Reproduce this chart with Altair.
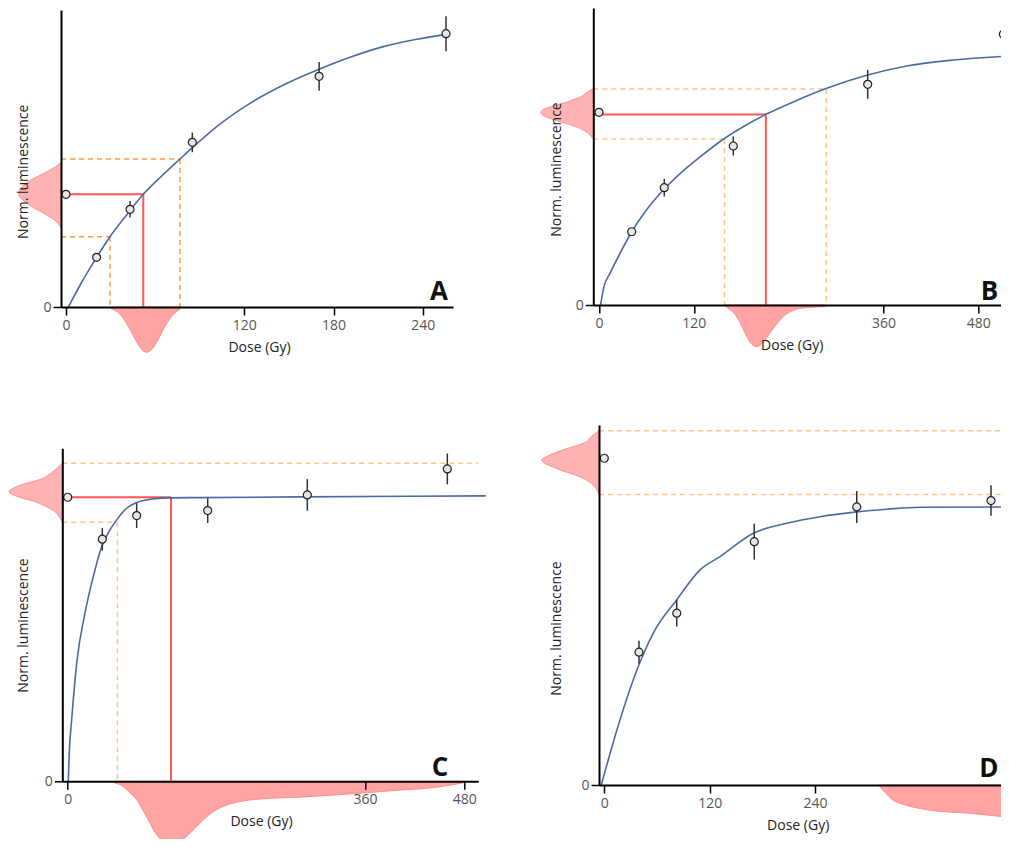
import altair as alt
import pandas as pd

FONT = "Open Sans"
BLUE = "#4a6ba3"
RED = "#ff5555"
ORANGE_A = "#ff9a3c"
ORANGE = "#ffc48c"
YFILL = "#ffb3b3"
XFILL = "#ffa3a3"
DSTROKE = "#ff8f8f"

# ---------------- Panel A ----------------
A_dose = [0, 20.6, 43.1, 85.0, 170.3, 255.7]
A_lum = [1.138, 0.502, 0.987, 1.663, 2.330, 2.761]
A_err = [0.0, 0.03, 0.084, 0.099, 0.146, 0.177]
A_curve_dose = [1.6, 10, 20.6, 29.6, 40, 52.0, 64, 76.7, 85.0, 101.4, 123.8, 146.3, 170.3, 191.1, 213.5, 236.0, 255.7]
A_curve_lum = [0.0, 0.235, 0.502, 0.710, 0.915, 1.138, 1.318, 1.495, 1.609, 1.822, 2.057, 2.242, 2.401, 2.522, 2.630, 2.704, 2.754]
A_Ln, A_De = 1.138, 52.0
A_ci_lum = [0.710, 1.495]
A_ci_dose = [29.6, 76.7]
A_ydens_lum = [1.46, 1.42, 1.38, 1.33, 1.28, 1.24, 1.20, 1.16, 1.14, 1.11, 1.08, 1.04, 1.00, 0.96, 0.92, 0.88, 0.84, 0.80]
A_ydens = [0.00, 0.12, 0.27, 0.50, 0.72, 0.85, 0.95, 0.99, 1.00, 0.97, 0.90, 0.78, 0.64, 0.46, 0.30, 0.16, 0.06, 0.00]
A_xdens_dose = [29.6, 32, 36, 40, 44, 48, 52, 54.3, 57, 61, 65, 69, 73, 76.7]
A_xdens = [0.03, 0.06, 0.15, 0.32, 0.55, 0.80, 0.97, 1.00, 0.96, 0.78, 0.53, 0.30, 0.14, 0.05]
A_ticks = [0, 120, 180, 240]

# ---------------- Panel B ----------------
B_dose = [0, 41.4, 82.6, 169.9, 340.0, 511.6]
B_lum = [1.946, 0.740, 1.185, 1.606, 2.229, 2.734]
B_err = [0.0, 0.02, 0.089, 0.096, 0.146, 0.179]
B_curve_dose = [2.0, 6.3, 13.9, 26.6, 41.4, 60, 81.4, 104, 127.8, 157.3, 184, 211.3, 250, 288.1, 340.0, 389.3, 448.3, 518.8]
B_curve_lum = [0.0, 0.185, 0.320, 0.522, 0.740, 0.960, 1.162, 1.338, 1.495, 1.674, 1.808, 1.926, 2.066, 2.189, 2.323, 2.414, 2.475, 2.515]
B_Ln, B_De = 1.924, 211.1
B_ci_lum = [1.677, 2.182]
B_ci_dose = [158.8, 287.5]
B_ydens_lum = [2.182, 2.14, 2.10, 2.06, 2.03, 2.00, 1.97, 1.94, 1.91, 1.88, 1.85, 1.81, 1.77, 1.73, 1.677]
B_ydens = [0.02, 0.14, 0.25, 0.45, 0.62, 0.83, 0.97, 1.00, 0.94, 0.80, 0.62, 0.38, 0.20, 0.09, 0.00]
B_xdens_dose = [158.8, 165, 172, 178, 184, 190, 195, 199, 204, 210, 216, 223, 230, 240, 252, 265, 287.5]
B_xdens = [0.02, 0.10, 0.22, 0.40, 0.64, 0.86, 0.97, 1.00, 0.96, 0.84, 0.68, 0.50, 0.34, 0.18, 0.09, 0.06, 0.04]
B_ticks = [0, 120, 360, 480]

# ---------------- Panel C ----------------
C_dose = [0, 41.9, 83.5, 169.5, 290.1, 459.6]
C_lum = [2.559, 2.181, 2.394, 2.439, 2.580, 2.814]
C_err = [0.0, 0.102, 0.112, 0.112, 0.142, 0.139]
C_curve_dose = [0.7, 1.9, 4.8, 10.9, 20.9, 31.0, 41.2, 51.2, 59.3, 71.4, 83.5, 99.6, 119.9, 160.2, 281.2, 506.1]
C_curve_lum = [0.0, 0.256, 0.555, 1.065, 1.515, 1.845, 2.115, 2.265, 2.355, 2.460, 2.511, 2.541, 2.553, 2.556, 2.562, 2.571]
C_Ln, C_De = 2.559, 125.1
C_ci_lum = [2.334, 2.865]
C_ci_dose = [60.1, None]
C_ydens_lum = [2.865, 2.82, 2.79, 2.76, 2.73, 2.70, 2.67, 2.64, 2.61, 2.58, 2.55, 2.52, 2.49, 2.46, 2.43, 2.40, 2.37, 2.334]
C_ydens = [0.00, 0.10, 0.17, 0.26, 0.36, 0.55, 0.78, 0.92, 1.00, 0.92, 0.74, 0.52, 0.36, 0.24, 0.14, 0.08, 0.04, 0.00]
C_xdens_dose = [57.3, 66, 71.4, 77, 83.5, 91.5, 98, 103.6, 110, 115.7, 123.8, 130, 136.0, 148, 160.2, 172, 184.4, 196, 208.6, 232.8, 281.2, 320, 362.0, 400, 442.6, 478.9]
C_xdens = [0.03, 0.07, 0.13, 0.20, 0.29, 0.47, 0.62, 0.76, 0.88, 0.95, 1.00, 0.99, 0.95, 0.82, 0.66, 0.52, 0.42, 0.36, 0.32, 0.28, 0.25, 0.22, 0.18, 0.14, 0.10, 0.025]
C_ticks = [0, 360, 480]

# ---------------- Panel D ----------------
D_dose = [0, 39.5, 82.5, 170.8, 287.5, 440.4]
D_lum = [2.723, 1.107, 1.432, 2.028, 2.317, 2.370]
D_err = [0.0, 0.096, 0.111, 0.150, 0.133, 0.127]
D_curve_dose = [-3.5, 17.9, 39.5, 55.8, 82.5, 109.0, 131.8, 169.7, 207.7, 245.7, 287.5, 321.6, 359.6, 460.9, 520]
D_curve_lum = [0.0, 0.544, 1.002, 1.266, 1.543, 1.793, 1.903, 2.098, 2.181, 2.236, 2.276, 2.298, 2.315, 2.317, 2.317]
D_Ln, D_De = 2.723, None
D_ci_lum = [2.420, 2.953]
D_ci_dose = [None, None]
D_ydens_lum = [2.953, 2.92, 2.89, 2.86, 2.83, 2.80, 2.77, 2.74, 2.71, 2.68, 2.65, 2.62, 2.59, 2.56, 2.53, 2.50, 2.47, 2.42]
D_ydens = [0.00, 0.09, 0.16, 0.22, 0.38, 0.58, 0.76, 0.90, 1.00, 0.95, 0.80, 0.65, 0.45, 0.29, 0.18, 0.10, 0.05, 0.00]
D_xdens_dose = [312, 320, 327, 340, 360, 382, 413, 440, 461, 480]
D_xdens = [0.0, 0.19, 0.35, 0.48, 0.59, 0.66, 0.70, 0.76, 0.81, 0.85]
D_ticks = [0, 120, 240]


def make_panel(p):
    W, H = p["W"], p["H"]
    xdom, ydom = p["xdom"], p["ydom"]
    xs = alt.Scale(domain=xdom, nice=False, zero=False)
    ys = alt.Scale(domain=ydom, nice=False, zero=False)
    gx = (xdom[1] - xdom[0]) / W
    gy = (ydom[1] - ydom[0]) / H

    common = dict(domainColor="black", domainWidth=2, tickColor="black", tickWidth=1.5,
                  tickSize=8, labelColor="#555", labelFont=FONT, labelFontSize=14,
                  titleFont=FONT, titleFontSize=14, titleFontWeight="normal",
                  titleColor="#222", grid=False, zindex=1, labelFlush=False)
    xaxis = alt.Axis(values=p["ticks"], title="Dose (Gy)", labelPadding=3,
                     titleX=p["xt"][0], titleY=p["xt"][1], titleAlign="center",
                     titleBaseline="middle", **common)
    yaxis = alt.Axis(values=[0], title="Norm. luminescence", labelPadding=2,
                     titleAngle=270, titleX=p["yt"][0], titleY=p["yt"][1],
                     titleAlign="center", titleBaseline="middle", **common)

    def X(f):
        return alt.X(f, type="quantitative", scale=xs, axis=xaxis)

    def Y(f):
        return alt.Y(f, type="quantitative", scale=ys, axis=yaxis)

    layers = []
    # density of natural signal (left, outside the plot)
    ydf = pd.DataFrame({"lum": p["yd_lum"], "den": p["yd"]})
    ydf["xd"] = xdom[0] - ydf["den"] * p["ypx"] * gx
    ydf["base"] = xdom[0]
    layers.append(alt.Chart(ydf).mark_area(orient="horizontal", interpolate="monotone",
                                           fill=YFILL, stroke=DSTROKE, strokeWidth=1)
                  .encode(y=Y("lum"), x=X("xd"), x2=alt.X2("base")))
    # density of equivalent dose (below the plot)
    xdf = pd.DataFrame({"dose": p["xd_dose"], "den": p["xd"]})
    xdf["yd"] = -xdf["den"] * p["xpx"] * gy
    xdf["base"] = 0.0
    layers.append(alt.Chart(xdf).mark_area(orient="vertical", interpolate="monotone",
                                           fill=XFILL, stroke=DSTROKE, strokeWidth=1)
                  .encode(x=X("dose"), y=Y("yd"), y2=alt.Y2("base")))
    # confidence lines (orange dashed)
    orng = []
    for cl, cd in zip(p["ci_lum"], p["ci_dose"]):
        if cd is None:
            orng.append(dict(xa=xdom[0], ya=cl, xb=xdom[1], yb=cl))
        else:
            orng.append(dict(xa=xdom[0], ya=cl, xb=cd, yb=cl))
            orng.append(dict(xa=cd, ya=cl, xb=cd, yb=0.0))
    layers.append(alt.Chart(pd.DataFrame(orng)).mark_rule(color=p["orange"], strokeWidth=1.5,
                                                          strokeDash=[5, 4])
                  .encode(x=X("xa"), x2=alt.X2("xb"), y=Y("ya"), y2=alt.Y2("yb")))
    # De lines (red)
    if p["De"] is not None:
        red = [dict(xa=xdom[0], ya=p["Ln"], xb=p["De"], yb=p["Ln"]),
               dict(xa=p["De"], ya=p["Ln"], xb=p["De"], yb=0.0)]
        layers.append(alt.Chart(pd.DataFrame(red)).mark_rule(color=RED, strokeWidth=2)
                      .encode(x=X("xa"), x2=alt.X2("xb"), y=Y("ya"), y2=alt.Y2("yb")))
    # fitted curve
    cdf = pd.DataFrame({"dose": p["cdose"], "lum": p["clum"]})
    layers.append(alt.Chart(cdf).mark_line(interpolate="monotone", color=BLUE, strokeWidth=1.6)
                  .encode(x=X("dose"), y=Y("lum")))
    # error bars
    pdf = pd.DataFrame({"dose": p["dose"], "lum": p["lum"], "err": p["err"]})
    pdf["lo"] = pdf["lum"] - pdf["err"]
    pdf["hi"] = pdf["lum"] + pdf["err"]
    edf = pdf[pdf["err"] > 0]
    layers.append(alt.Chart(edf).mark_rule(color="#333", strokeWidth=1.5)
                  .encode(x=X("dose"), y=Y("lo"), y2=alt.Y2("hi")))
    # points
    layers.append(alt.Chart(pdf).mark_circle(size=64, fill="#e6e6e6", stroke="#222",
                                             strokeWidth=1.2, opacity=1)
                  .encode(x=X("dose"), y=Y("lum")))
    # panel letter
    layers.append(alt.Chart(pd.DataFrame({"t": [p["letter"]]}))
                  .mark_text(font=FONT, fontSize=26, fontWeight="bold", color="#111",
                             align="right", baseline="alphabetic")
                  .encode(text="t:N", x=alt.value(p["lx"]), y=alt.value(p["ly"])))
    return alt.layer(*layers).properties(width=W, height=H)


pA = make_panel(dict(W=392, H=297, xdom=[-3.36, 260.4], ydom=[0, 3.0], ticks=A_ticks,
                     dose=A_dose, lum=A_lum, err=A_err, cdose=A_curve_dose, clum=A_curve_lum,
                     Ln=A_Ln, De=A_De, ci_lum=A_ci_lum, ci_dose=A_ci_dose,
                     yd_lum=A_ydens_lum, yd=A_ydens, xd_dose=A_xdens_dose, xd=A_xdens,
                     ypx=42.3, xpx=45.3, orange=ORANGE_A, letter="A",
                     lx=387, ly=290, xt=(198, 40), yt=(-37.7, 161.3)))
pB = make_panel(dict(W=424, H=297, xdom=[-7.21, 529.3], ydom=[0, 3.0], ticks=B_ticks,
                     dose=B_dose, lum=B_lum, err=B_err, cdose=B_curve_dose, clum=B_curve_lum,
                     Ln=B_Ln, De=B_De, ci_lum=B_ci_lum, ci_dose=B_ci_dose,
                     yd_lum=B_ydens_lum, yd=B_ydens, xd_dose=B_xdens_dose, xd=B_xdens,
                     ypx=52.3, xpx=41.7, orange=ORANGE, letter="B",
                     lx=405, ly=292, xt=(198.4, 40.7), yt=(-36.6, 161)))
pC = make_panel(dict(W=416, H=333, xdom=[-6.54, 497.1], ydom=[0, 3.0], ticks=C_ticks,
                     dose=C_dose, lum=C_lum, err=C_err, cdose=C_curve_dose, clum=C_curve_lum,
                     Ln=C_Ln, De=C_De, ci_lum=C_ci_lum, ci_dose=C_ci_dose,
                     yd_lum=C_ydens_lum, yd=C_ydens, xd_dose=C_xdens_dose, xd=C_xdens,
                     ypx=53.3, xpx=63.3, orange=ORANGE, letter="C",
                     lx=386, ly=327.4, xt=(198.7, 39.7), yt=(-39, 176.7)))
pD = make_panel(dict(W=418, H=360, xdom=[-6.04, 470.0], ydom=[0, 3.0], ticks=D_ticks,
                     dose=D_dose, lum=D_lum, err=D_err, cdose=D_curve_dose, clum=D_curve_lum,
                     Ln=D_Ln, De=D_De, ci_lum=D_ci_lum, ci_dose=D_ci_dose,
                     yd_lum=D_ydens_lum, yd=D_ydens, xd_dose=D_xdens_dose, xd=D_xdens,
                     ypx=57.3, xpx=40.0, orange=ORANGE, letter="D",
                     lx=399.5, ly=351.7, xt=(198.7, 40), yt=(-42.3, 203)))


def spacer():
    return (alt.Chart(pd.DataFrame({"s": [0]})).mark_point(opacity=0)
            .encode(x=alt.value(0), y=alt.value(0)).properties(width=1, height=1))


awrap = alt.vconcat(spacer(), pA, spacing=1, bounds="flush")      # A sits 2px lower
cwrap = alt.hconcat(spacer(), pC, spacing=0.3, bounds="flush")    # C sits 1.3px right
dwrap = alt.hconcat(spacer(), pD, spacing=4.7, bounds="flush")    # D sits 5.7px right

col1 = alt.vconcat(awrap, cwrap, spacing=440.3, bounds="flush")
col2 = alt.vconcat(pB, dwrap, spacing=120, bounds="flush")

chart = (alt.hconcat(col1, col2, spacing=532.3, bounds="flush")
         .properties(autosize=alt.AutoSizeParams(type="none"),
                     padding={"left": 53, "top": 0, "right": 940, "bottom": 831})
         .configure_view(strokeWidth=0))

chart.save("out.html", embed_options={"renderer": "svg", "actions": False})
